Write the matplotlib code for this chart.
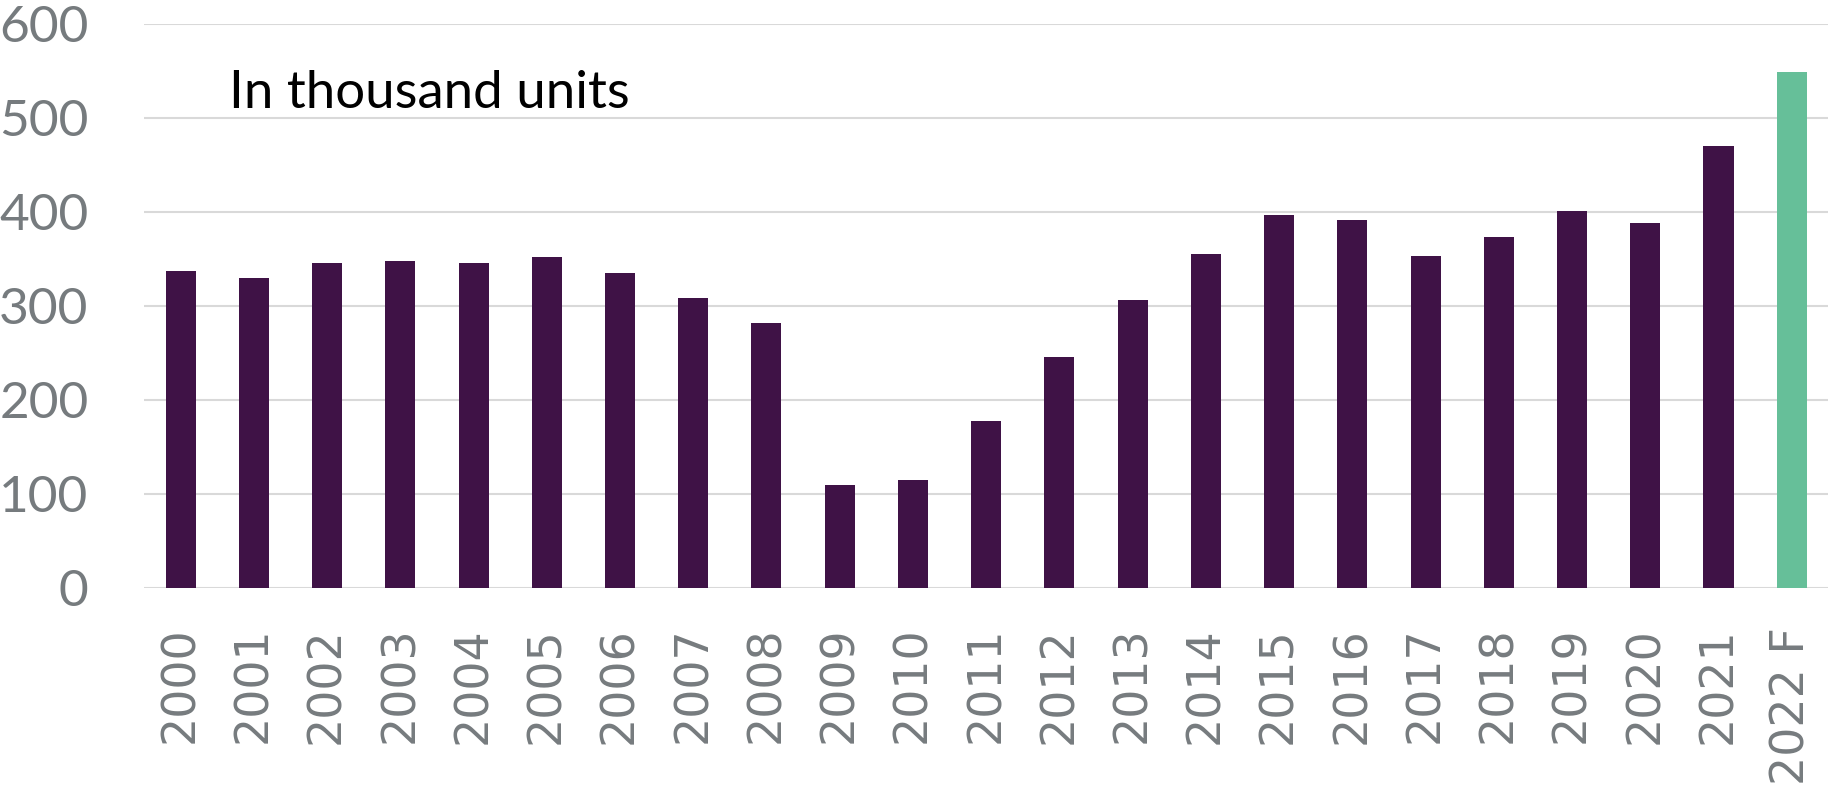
import matplotlib
matplotlib.use("Agg")
import matplotlib.pyplot as plt
import numpy as np

years = ['2000', '2001', '2002', '2003', '2004', '2005', '2006', '2007',
         '2008', '2009', '2010', '2011', '2012', '2013', '2014', '2015',
         '2016', '2017', '2018', '2019', '2020', '2021', '2022 F']
units = [337, 329, 345, 348, 345, 352, 335, 308, 282, 109, 115, 178,
         245, 306, 355, 396, 391, 353, 373, 401, 388, 470, 549]
yticks = [0, 100, 200, 300, 400, 500, 600]

purple = '#3F1246'
green = '#66BF99'
grey = '#767B7E'
colors = [purple] * (len(years) - 1) + [green]

fig = plt.figure(figsize=(18.32, 7.85), dpi=100)
ax = fig.add_axes([0.0786, 0.251, 0.9194, 0.719])

x = np.arange(len(years))
ax.bar(x, units, width=0.41, color=colors, zorder=3)

ax.set_xlim(-0.5, len(years) - 0.5)
ax.set_ylim(0, 600)
ax.set_yticks(yticks)
ax.set_yticklabels([str(v) for v in yticks], family='Lato', fontsize=37,
                   color=grey)
ax.set_xticks(x)
ax.set_xticklabels(years, rotation=90, family='DejaVu Sans', fontsize=33,
                   color=grey, va='top')
ax.tick_params(axis='y', length=0, pad=40)
ax.tick_params(axis='x', length=0, pad=28)

ax.grid(axis='y', color='#D9D9D9', linewidth=1.5, zorder=0)
for s in ax.spines.values():
    s.set_visible(False)

ax.text(0.66, 526, 'In thousand units', family='Lato', fontsize=38,
        color='black', va='center', ha='left')

fig.savefig('out.png', dpi=100)
